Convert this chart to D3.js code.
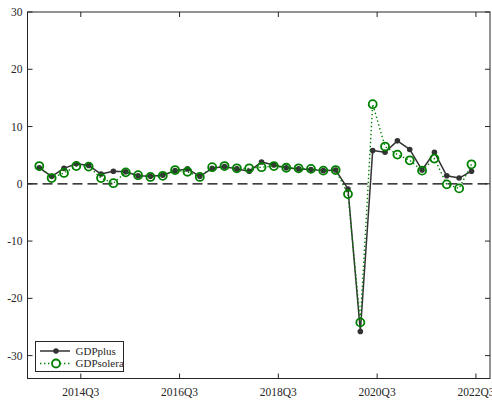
<!DOCTYPE html>
<html>
<head>
<meta charset="utf-8">
<script src="https://cdn.jsdelivr.net/npm/d3@7"></script>
<style>
  html, body { margin: 0; padding: 0; background: #fff; }
  svg { display: block; }
  text { font-family: "Liberation Serif", "Times New Roman", serif; fill: #262626; }
</style>
</head>
<body>
<svg id="chart" width="492" height="401"></svg>
<script>
// Quarterly GDP growth, annualized (%)
const quarters = [
  "2013Q4","2014Q1","2014Q2","2014Q3","2014Q4","2015Q1","2015Q2","2015Q3","2015Q4",
  "2016Q1","2016Q2","2016Q3","2016Q4","2017Q1","2017Q2","2017Q3","2017Q4",
  "2018Q1","2018Q2","2018Q3","2018Q4","2019Q1","2019Q2","2019Q3","2019Q4",
  "2020Q1","2020Q2","2020Q3","2020Q4","2021Q1","2021Q2","2021Q3","2021Q4",
  "2022Q1","2022Q2","2022Q3"
];
const gdpPlus = [
  2.8, 1.3, 2.7, 3.5, 3.2, 1.7, 2.2, 2.1, 1.4,
  1.3, 1.5, 2.3, 2.6, 1.3, 2.7, 3.0, 2.6,
  2.2, 3.8, 3.3, 2.8, 2.6, 2.5, 2.3, 2.4,
  -0.9, -25.8, 5.8, 5.5, 7.5, 6.0, 2.4, 5.5,
  1.4, 1.0, 2.2
];
const gdpSolera = [
  3.1, 1.0, 1.9, 3.1, 3.0, 1.0, 0.1, 2.0, 1.5,
  1.2, 1.4, 2.4, 2.1, 1.2, 2.9, 3.1, 2.7,
  2.7, 2.9, 3.1, 2.8, 2.7, 2.6, 2.3, 2.4,
  -1.8, -24.2, 13.9, 6.5, 5.1, 4.1, 2.3, 4.4,
  -0.1, -0.8, 3.4
];
const xTickLabels = ["2014Q3", "2016Q3", "2018Q3", "2020Q3", "2022Q3"];
const yTicks = [-30, -20, -10, 0, 10, 20, 30];
const seriesNames = ["GDPplus", "GDPsolera"];

const svg = d3.select("#chart");
const plotLeft = 27.5, plotRight = 490, plotTop = 12, plotBottom = 378.5;
const axisColor = "#262626";

// Quarter-position scale; date ticks sit a little after each quarter's point
const tickShift = 0.36;
const x = d3.scaleLinear().domain([-0.955, 36.5]).range([plotLeft, plotRight]);
const y = d3.scaleLinear().domain([-34, 30]).range([plotBottom, plotTop]);
const xi = q => quarters.indexOf(q);

// Zero reference line
svg.append("line")
  .attr("x1", plotLeft).attr("x2", plotRight)
  .attr("y1", y(0)).attr("y2", y(0))
  .attr("stroke", "#000").attr("stroke-width", 1.2)
  .attr("stroke-dasharray", "10,5");

// GDPplus: solid line with filled dots
const seriesLine = d3.line().x((d, i) => x(i)).y(d => y(d));
svg.append("path").datum(gdpPlus)
  .attr("d", seriesLine).attr("fill", "none")
  .attr("stroke", "#333").attr("stroke-width", 1.5)
  .attr("stroke-linejoin", "round");
svg.append("g").selectAll("circle").data(gdpPlus).join("circle")
  .attr("cx", (d, i) => x(i)).attr("cy", d => y(d)).attr("r", 2.8)
  .attr("fill", "#333");

// GDPsolera: dotted green line with open circles
svg.append("path").datum(gdpSolera)
  .attr("d", seriesLine).attr("fill", "none")
  .attr("stroke", "#008000").attr("stroke-width", 1.4)
  .attr("stroke-dasharray", "1.4,2.6");
svg.append("g").selectAll("circle").data(gdpSolera).join("circle")
  .attr("cx", (d, i) => x(i)).attr("cy", d => y(d)).attr("r", 4)
  .attr("fill", "none").attr("stroke", "#008000").attr("stroke-width", 1.8);

// Axes box with inward ticks on all four sides
const tickLen = 5;
const frame = svg.append("g").attr("stroke", axisColor).attr("stroke-width", 1).attr("fill", "none");
frame.append("rect").attr("x", plotLeft).attr("y", plotTop)
  .attr("width", plotRight - plotLeft).attr("height", plotBottom - plotTop);

const xTickPos = xTickLabels.map(q => x(xi(q) + tickShift));
xTickPos.forEach(px => {
  frame.append("line").attr("x1", px).attr("x2", px).attr("y1", plotBottom).attr("y2", plotBottom - tickLen);
  frame.append("line").attr("x1", px).attr("x2", px).attr("y1", plotTop).attr("y2", plotTop + tickLen);
});
yTicks.forEach(v => {
  frame.append("line").attr("x1", plotLeft).attr("x2", plotLeft + tickLen).attr("y1", y(v)).attr("y2", y(v));
  frame.append("line").attr("x1", plotRight).attr("x2", plotRight - tickLen).attr("y1", y(v)).attr("y2", y(v));
});

// Tick labels
svg.append("g").selectAll("text").data(xTickLabels).join("text")
  .attr("x", (d, i) => xTickPos[i]).attr("y", 396)
  .attr("text-anchor", "middle").attr("font-size", 11.5)
  .text(d => d);
svg.append("g").selectAll("text").data(yTicks).join("text")
  .attr("x", 22.5).attr("y", d => y(d) + 4)
  .attr("text-anchor", "end").attr("font-size", 11.5)
  .text(d => d);

// Legend
const lg = svg.append("g");
lg.append("rect").attr("x", 35.5).attr("y", 341.5).attr("width", 88).attr("height", 30)
  .attr("fill", "#fff").attr("stroke", axisColor).attr("stroke-width", 1);
const rowY = [351, 363.5];
lg.append("line").attr("x1", 40).attr("x2", 70).attr("y1", rowY[0]).attr("y2", rowY[0])
  .attr("stroke", "#333").attr("stroke-width", 1.5);
lg.append("circle").attr("cx", 56).attr("cy", rowY[0]).attr("r", 2.8).attr("fill", "#333");
lg.append("line").attr("x1", 40).attr("x2", 70).attr("y1", rowY[1]).attr("y2", rowY[1])
  .attr("stroke", "#008000").attr("stroke-width", 1.4).attr("stroke-dasharray", "1.4,2.6");
lg.append("circle").attr("cx", 56).attr("cy", rowY[1]).attr("r", 4)
  .attr("fill", "#fff").attr("stroke", "#008000").attr("stroke-width", 1.8);
lg.selectAll("text.lab").data(seriesNames).join("text").attr("class", "lab")
  .attr("x", 75.5).attr("y", (d, i) => rowY[i] + 3.8)
  .attr("font-size", 11).text(d => d);
</script>
</body>
</html>
